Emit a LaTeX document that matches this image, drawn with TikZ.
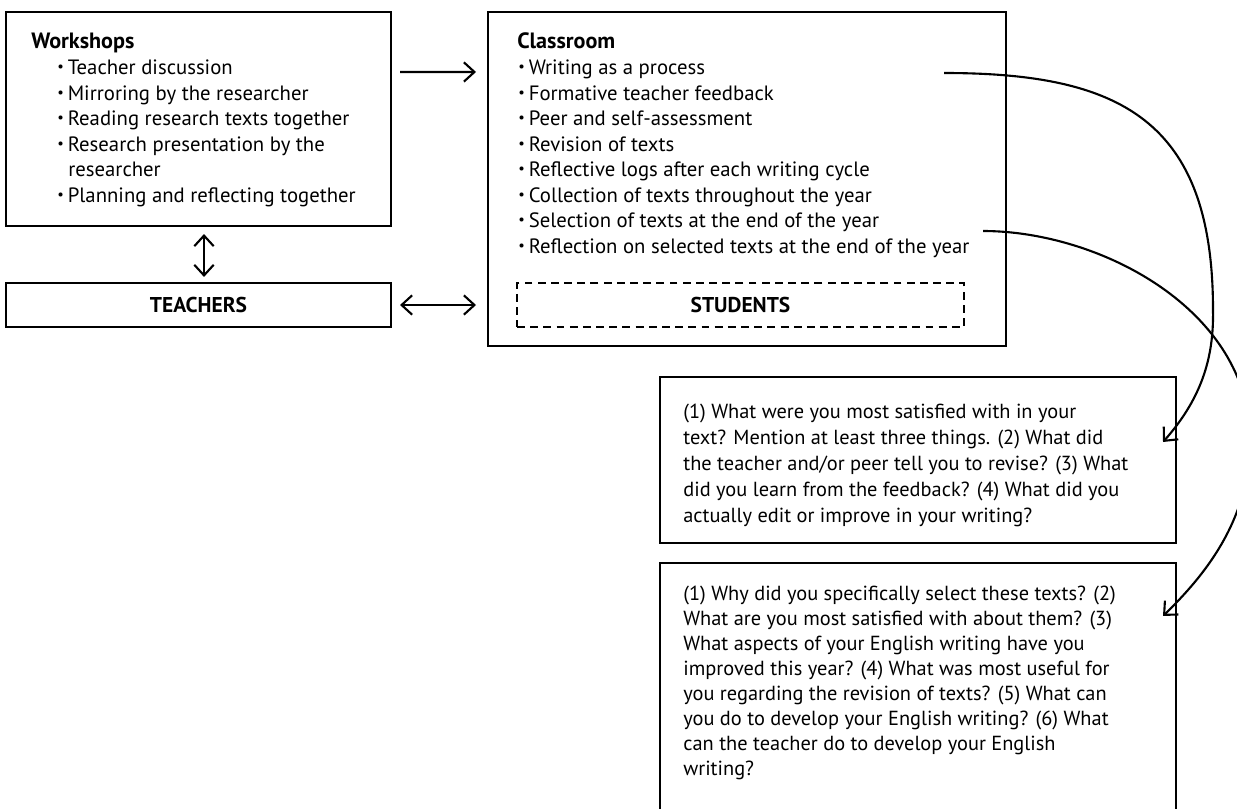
\documentclass[tikz,border=0pt]{standalone}
\usepackage{fontspec}
\setmainfont{PT Sans}
\usetikzlibrary{arrows.meta, positioning, calc}
\newcommand{\itembul}{\makebox[0.21cm][l]{\raisebox{0.25ex}{\scalebox{0.7}{\textbullet}}}}

\begin{document}
\begin{tikzpicture}[
    x=0.02cm, y=-0.02cm,
    box/.style={draw, line width=1.2pt, inner sep=0pt},
    dbox/.style={box, dash pattern=on 4.5pt off 3pt},
    arr/.style={-{Straight Barb[length=6pt, width=11pt]}, line width=1.2pt},
    darr/.style={{Straight Barb[length=6pt, width=11pt]}-{Straight Barb[length=6pt, width=11pt]}, line width=1.2pt},
    txt/.style={inner sep=0pt, anchor=base west, font=\fontsize{11.8}{14.5}\selectfont},
    qtxt/.style={txt, font=\fontsize{11.6}{14.5}\selectfont},
    ttl/.style={txt, font=\fontsize{12.6}{14.5}\selectfont\bfseries},
    lbl/.style={font=\fontsize{12.2}{14.5}\selectfont\bfseries}
]

% ---- Frame ----
\useasboundingbox (0,0) rectangle (1237,808);
\clip (0,0) rectangle (1237,808);

% ---- Workshops (left) ----
\node[box, minimum width=7.7cm, minimum height=4.28cm] (workshops) at (198.5,119) {};
\node[ttl] (wstitle) at (31,49) {Workshops};
\foreach \xx/\txt [count=\i] in {57/\itembul Teacher discussion,
    57/\itembul Mirroring by the researcher,
    57/\itembul Reading research texts together,
    57/\itembul Research presentation by the,
    68/researcher,
    57/\itembul Planning and reflecting together}
    \node[txt] (ws\i) at (\xx, {49+25.5*\i}) {\txt};

\node[box, minimum width=7.7cm, minimum height=0.88cm, lbl] (teachers) at (198.5,305) {TEACHERS};

% ---- Classroom (middle) ----
\node[box, minimum width=10.36cm, minimum height=6.68cm] (classroom) at (747,179) {};
\node[ttl] (cltitle) at (517,49) {Classroom};
\foreach \txt [count=\i] in {Writing as a process,
    Formative teacher feedback,
    Peer and self-assessment,
    Revision of texts,
    Reflective logs after each writing cycle,
    Collection of texts throughout the year,
    Selection of texts at the end of the year,
    Reflection on selected texts at the end of the year}
    \node[txt] (cl\i) at (518, {49+25.5*\i}) {\itembul\txt};

\node[dbox, minimum width=8.94cm, minimum height=0.88cm, lbl] (students) at (740.5,305) {STUDENTS};

% ---- Question boxes (right) ----
\node[box, minimum width=10.32cm, minimum height=3.32cm] (logq) at (918,460) {};
\foreach \txt [count=\i] in {(1) What were you most satisfied with in your,
    text? Mention at least three things. (2) What did,
    the teacher and/or peer tell you to revise? (3) What,
    did you learn from the feedback? (4) What did you,
    actually edit or improve in your writing?}
    \node[qtxt] (lq\i) at (683, {392+26*\i}) {\txt};

\node[box, minimum width=10.32cm, minimum height=5.74cm] (selq) at (918,706.5) {};
\foreach \txt [count=\i] in {(1) Why did you specifically select these texts? (2),
    What are you most satisfied with about them? (3),
    What aspects of your English writing have you,
    improved this year? (4) What was most useful for,
    you regarding the revision of texts? (5) What can,
    you do to develop your English writing? (6) What,
    can the teacher do to develop your English,
    writing?}
    \node[qtxt] (sq\i) at (683, {575+25*\i}) {\txt};

% ---- Connectors ----
\draw[arr] ($(workshops.north east)+(8,61)$) -- ($(classroom.north west)+(-11,61)$);
\draw[darr] ($(teachers.east)+(8,0)$) -- ($(teachers.east -| classroom.west)+(-11,0)$);
\draw[darr] ($(workshops.south)+(5.5,7)$) -- ($(teachers.north)+(5.5,-5)$);

\coordinate (logstart) at (944,73);
\coordinate (logend) at ($(logq.east)+(-14,-18)$);
\coordinate (selstart) at (983,231);
\coordinate (selend) at ($(selq.north east)+(-14,54)$);

\draw[arr] (logstart) .. controls (1120,73) and (1213,120) .. (1213,310)
    .. controls (1214,360) and (1200,400) .. (logend);
\draw[arr] (selstart) .. controls (1100,231) and (1250,310) .. (1250,440)
    .. controls (1250,520) and (1205,575) .. (selend);

\end{tikzpicture}
\end{document}
